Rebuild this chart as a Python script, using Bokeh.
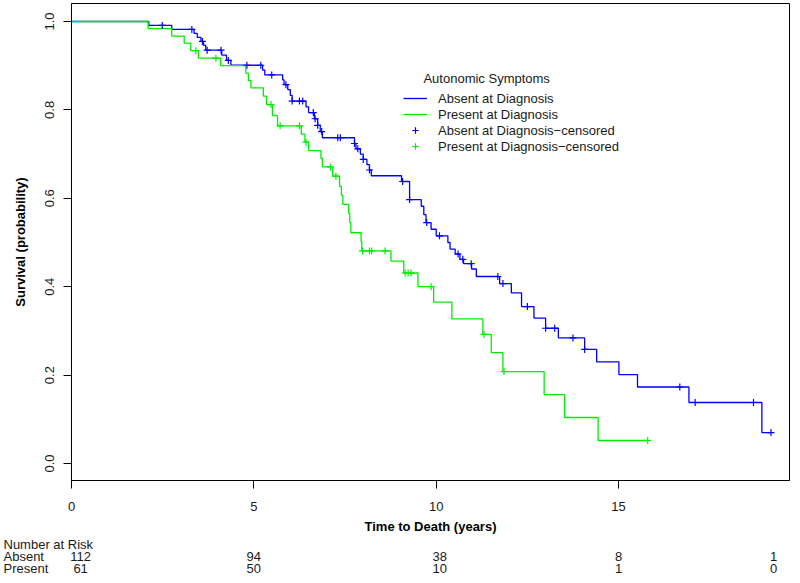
import numpy as np
from bokeh.plotting import figure
from bokeh.layouts import column, row
from bokeh.models import (Range1d, FixedTicker, PrintfTickFormatter, Legend,
                          LegendItem, Label)
from bokeh.core.properties import value
from bokeh.embed import file_html
from bokeh.resources import INLINE

FONT = "Liberation Sans"

# ---- data ----
absent_event_t = [2.12, 2.75, 3.36, 3.45, 3.55, 3.62, 3.68, 4.12, 4.25, 4.37,
                  5.24, 5.30, 5.79, 5.83, 5.93, 6.00, 6.05, 6.43, 6.50, 6.66,
                  6.75, 6.82, 6.88, 7.76, 7.80, 7.92, 8.00, 8.10, 8.17, 8.22,
                  9.05, 9.27, 9.59, 9.66, 9.72, 9.86, 10.00, 10.32, 10.38, 10.52,
                  10.65, 10.75, 10.97, 11.10, 11.74, 12.06, 12.34, 12.68, 13.00, 13.35,
                  14.07, 14.40, 15.01, 15.52, 16.93, 18.93]
absent_surv = [0.991, 0.982, 0.973, 0.964, 0.955, 0.946, 0.935, 0.924, 0.912, 0.901,
               0.890, 0.879, 0.868, 0.857, 0.846, 0.833, 0.820, 0.807, 0.794, 0.780,
               0.765, 0.751, 0.737, 0.724, 0.712, 0.700, 0.688, 0.676, 0.664, 0.651,
               0.638, 0.597, 0.582, 0.563, 0.545, 0.530, 0.515, 0.500, 0.485, 0.474,
               0.462, 0.452, 0.440, 0.423, 0.407, 0.386, 0.355, 0.329, 0.306, 0.284,
               0.258, 0.230, 0.201, 0.173, 0.138, 0.070]
absent_cens_t = [2.49, 3.30, 3.59, 3.72, 4.10, 4.30, 4.81, 5.19, 5.49, 5.88,
                 6.05, 6.25, 6.34, 6.63, 6.68, 6.75, 6.86, 7.30, 7.37, 7.76,
                 7.85, 8.00, 8.17, 9.08, 9.27, 9.74, 10.09, 10.60, 10.73, 10.96,
                 11.69, 11.83, 12.50, 13.00, 13.25, 13.75, 14.07, 16.68, 17.10, 18.70,
                 19.18]

present_event_t = [2.10, 2.75, 3.09, 3.27, 3.48, 4.09, 4.78, 4.85, 4.92, 5.26,
                   5.35, 5.51, 5.65, 6.30, 6.40, 6.50, 6.84, 6.88, 7.16, 7.35,
                   7.40, 7.44, 7.60, 7.63, 7.66, 7.94, 7.96, 8.76, 9.11, 9.50,
                   9.93, 10.43, 11.28, 11.51, 11.83, 12.96, 13.52, 14.44]
present_surv = [0.984, 0.967, 0.951, 0.934, 0.917, 0.900, 0.883, 0.866, 0.850, 0.831,
                0.812, 0.787, 0.764, 0.745, 0.727, 0.708, 0.690, 0.671, 0.650, 0.627,
                0.607, 0.586, 0.566, 0.545, 0.522, 0.502, 0.481, 0.458, 0.431, 0.400,
                0.365, 0.327, 0.292, 0.251, 0.208, 0.156, 0.104, 0.052]
present_cens_t = [3.41, 3.96, 5.47, 5.72, 6.25, 6.43, 7.10, 7.25, 7.98, 8.17,
                  8.23, 8.60, 9.15, 9.23, 9.31, 9.86, 11.31, 11.86, 15.80]

risk_title = "Number at Risk"
risk_groups = ["Absent", "Present"]
risk_x = [0.25, 5.0, 10.1, 15.0, 19.25]
risk_absent = [112, 94, 38, 8, 1]
risk_present = [61, 50, 10, 1, 0]

x_ticks = [0, 5, 10, 15]
y_ticks = [0.0, 0.2, 0.4, 0.6, 0.8, 1.0]

BLUE = "#0000ff"
GREEN = "#00ee00"
TXT = "#1a1a1a"

# pixel layout
W = 790
H1 = 536
H2 = 39
LEFT = 71
PX_PER_YEAR = 36.47
X_MAX = (W - 1 - LEFT) / PX_PER_YEAR
ROW_PX = 12.0
ROW0_PX = 8.0


def km_path(ev_t, surv, cens_t):
    end = max(max(cens_t), max(ev_t))
    t = np.concatenate([[0.0], ev_t, [end]])
    s = np.concatenate([[1.0], surv, [surv[-1]]])
    return t, s


def cens_level(ev_t, surv, cens_t):
    idx = np.searchsorted(np.asarray(ev_t), np.asarray(cens_t), side="right")
    s = np.concatenate([[1.0], surv])
    return s[idx]


p = figure(width=W, height=H1, x_range=Range1d(0, X_MAX),
           y_range=Range1d(-0.0385, 1.0407), output_backend="svg",
           toolbar_location=None, min_border_left=LEFT, min_border_right=1,
           min_border_top=3, min_border_bottom=H1 - 480)

p.xgrid.visible = False
p.ygrid.visible = False
p.outline_line_color = "black"
p.outline_line_width = 1
p.background_fill_color = "white"

ta, sa = km_path(absent_event_t, absent_surv, absent_cens_t)
tp, sp = km_path(present_event_t, present_surv, present_cens_t)

r_a = p.step(ta, sa, mode="after", line_color=BLUE, line_width=1.3)
r_p = p.step(tp, sp, mode="after", line_color=GREEN, line_width=1.3)
r_ac = p.scatter(absent_cens_t, cens_level(absent_event_t, absent_surv, absent_cens_t),
                 marker="cross", size=7, line_color=BLUE, line_width=1.2)
r_pc = p.scatter(present_cens_t, cens_level(present_event_t, present_surv, present_cens_t),
                 marker="cross", size=7, line_color=GREEN, line_width=1.2)

for ax in (p.xaxis[0], p.yaxis[0]):
    ax.major_tick_out = 8
    ax.major_tick_in = 0
    ax.minor_tick_out = 0
    ax.minor_tick_in = 0
    ax.axis_line_color = "black"
    ax.major_tick_line_color = "black"
    ax.major_label_text_font = FONT
    ax.major_label_text_font_size = "13px"
    ax.major_label_text_color = TXT
    ax.axis_label_text_font = FONT
    ax.axis_label_text_font_size = "13px"
    ax.axis_label_text_font_style = "bold"
    ax.axis_label_text_color = "black"

p.xaxis.ticker = FixedTicker(ticks=x_ticks)
p.xaxis.major_label_standoff = 13
p.xaxis.axis_label = "Time to Death (years)"
p.xaxis.axis_label_standoff = 5

p.yaxis.ticker = FixedTicker(ticks=y_ticks)
p.yaxis.formatter = PrintfTickFormatter(format="%.1f")
p.yaxis.major_label_orientation = "vertical"
p.yaxis.major_label_standoff = 9
p.yaxis.axis_label = "Survival (probability)"
p.yaxis.axis_label_standoff = 15

legend = Legend(items=[
    LegendItem(label="Absent at Diagnosis", renderers=[r_a]),
    LegendItem(label="Present at Diagnosis", renderers=[r_p]),
    LegendItem(label="Absent at Diagnosis\u2212censored", renderers=[r_ac]),
    LegendItem(label="Present at Diagnosis\u2212censored", renderers=[r_pc]),
], location=(332, 326))
legend.border_line_alpha = 0
legend.background_fill_alpha = 0
legend.padding = 0
legend.margin = 0
legend.spacing = 0
legend.glyph_width = 24
legend.glyph_height = 16
legend.label_height = 16
legend.label_standoff = 11
legend.label_text_font = FONT
legend.label_text_font_size = "13px"
legend.label_text_color = TXT
p.add_layout(legend, "center")

p.add_layout(Label(x=9.65, y=0.871, text="Autonomic Symptoms", text_font=FONT,
                   text_font_size="13px", text_color=TXT,
                   text_baseline="middle", text_align="left"))

# ---- number-at-risk table (same x scale as the plot) ----
t2 = figure(width=W, height=H2, output_backend="svg", toolbar_location=None,
            x_range=Range1d(-LEFT / PX_PER_YEAR, (W - LEFT) / PX_PER_YEAR),
            y_range=Range1d((H2 - ROW0_PX) / ROW_PX, -ROW0_PX / ROW_PX),
            min_border_left=0, min_border_right=0, min_border_top=0,
            min_border_bottom=0)
t2.axis.visible = False
t2.grid.visible = False
t2.outline_line_color = None

name_x = -68 / PX_PER_YEAR
t2.text(x=[name_x, name_x, name_x], y=[0, 1, 2],
        text=[risk_title] + risk_groups, text_font=value(FONT),
        text_font_size=value("13px"), text_color=TXT,
        text_align="left", text_baseline="middle")
for r_i, counts in enumerate([risk_absent, risk_present], start=1):
    t2.text(x=risk_x, y=[r_i] * len(risk_x), text=[str(c) for c in counts],
            text_font=value(FONT), text_font_size=value("13px"), text_color=TXT,
            text_align="center", text_baseline="middle")

layout = column(p, row(t2, spacing=0), spacing=0)
open("out.html", "w").write(file_html(layout, INLINE))
